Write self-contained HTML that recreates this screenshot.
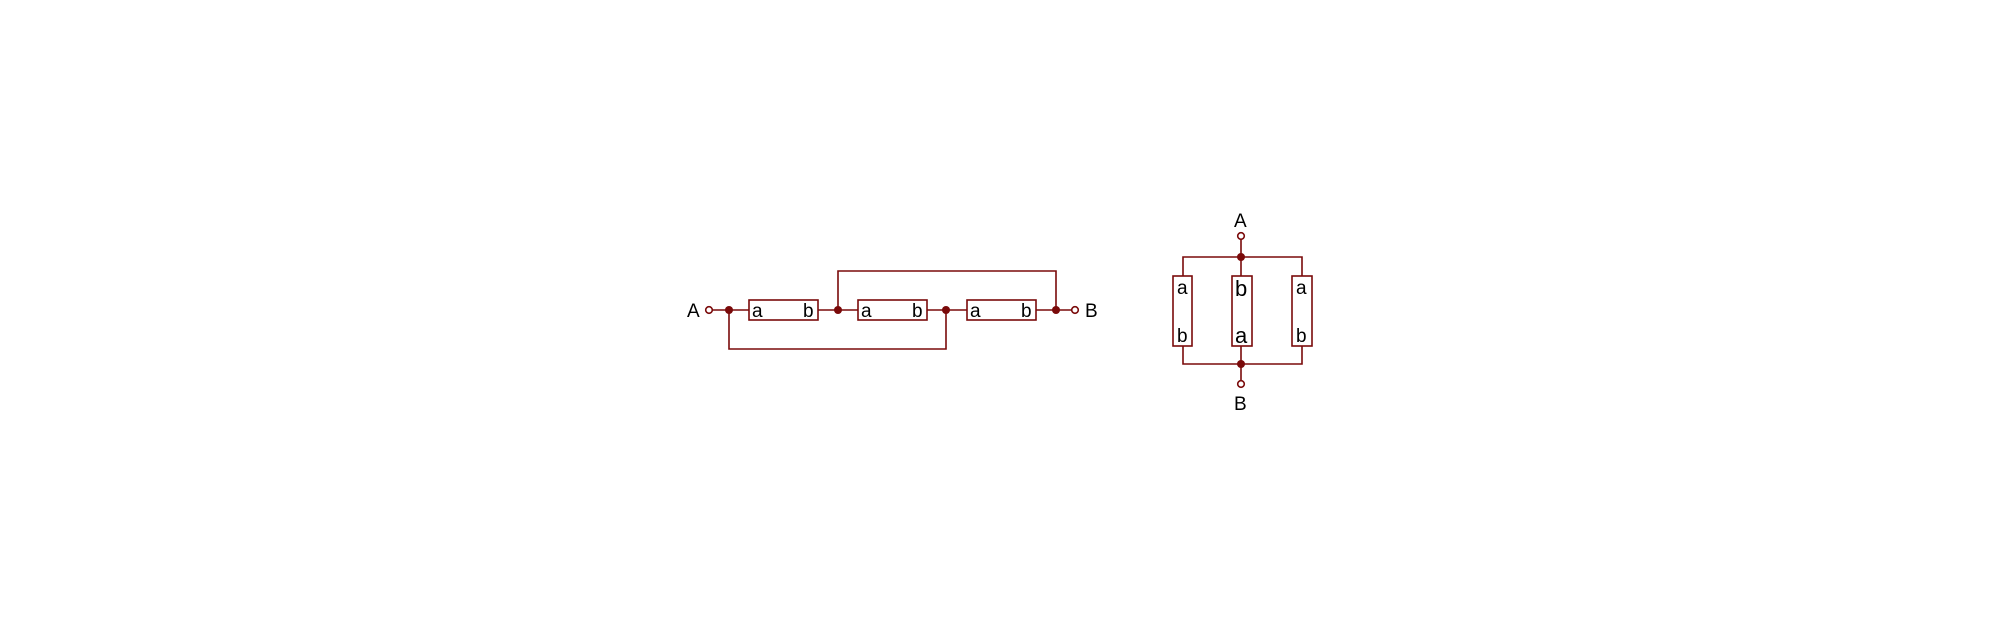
<!DOCTYPE html>
<html><head><style>
html,body{margin:0;padding:0;background:#fff;width:2000px;height:625px;overflow:hidden}
svg{display:block}
text{font-family:"Liberation Sans",sans-serif;fill:#000}
</style></head><body>
<svg width="2000" height="625" viewBox="0 0 2000 625" xmlns="http://www.w3.org/2000/svg">
<g stroke="#7a0a0a" stroke-width="1.6" fill="none">
<line x1="712" y1="310" x2="749" y2="310"/>
<line x1="818" y1="310" x2="858" y2="310"/>
<line x1="927" y1="310" x2="967" y2="310"/>
<line x1="1036" y1="310" x2="1072" y2="310"/>
<polyline points="838,310 838,271 1056,271 1056,310"/>
<polyline points="729,310 729,349 946,349 946,310"/>
<rect x="749" y="300" width="69" height="20"/>
<rect x="858" y="300" width="69" height="20"/>
<rect x="967" y="300" width="69" height="20"/>
<circle cx="709" cy="310" r="3.3" fill="#fff"/>
<circle cx="1075" cy="310" r="3.3" fill="#fff"/>
<line x1="1241" y1="239" x2="1241" y2="276"/>
<polyline points="1183,276 1183,257 1302,257 1302,276"/>
<line x1="1241" y1="346" x2="1241" y2="381"/>
<polyline points="1183,346 1183,364 1302,364 1302,346"/>
<rect x="1173" y="276" width="19" height="70"/>
<rect x="1232" y="276" width="20" height="70"/>
<rect x="1292" y="276" width="20" height="70"/>
<circle cx="1241" cy="236" r="3.3" fill="#fff"/>
<circle cx="1241" cy="384" r="3.3" fill="#fff"/>
</g>
<g fill="#7a0a0a">
<circle cx="729" cy="310" r="4"/>
<circle cx="838" cy="310" r="4"/>
<circle cx="946" cy="310" r="4"/>
<circle cx="1056" cy="310" r="4"/>
<circle cx="1241" cy="257" r="4"/>
<circle cx="1241" cy="364" r="4"/>
</g>
<g font-size="19">
<text x="687" y="317">A</text>
<text x="1085" y="317">B</text>
<text x="1234" y="227">A</text>
<text x="1234" y="410">B</text>
</g>
<g font-size="19">
<text x="752" y="317">a</text><text x="803" y="317">b</text>
<text x="861" y="317">a</text><text x="912" y="317">b</text>
<text x="970" y="317">a</text><text x="1021" y="317">b</text>
<text x="1177" y="294">a</text><text x="1177" y="342">b</text>
<text x="1296" y="294">a</text><text x="1296" y="342">b</text>
</g>
<g font-size="22">
<text x="1235" y="296">b</text><text x="1235" y="343">a</text>
</g>
</svg>
</body></html>
